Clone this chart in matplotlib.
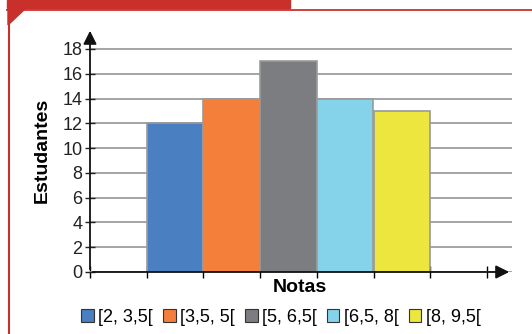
import matplotlib.pyplot as plt
from matplotlib.patches import Patch, Polygon, Rectangle
from matplotlib.lines import Line2D

# dados
classes = ["[2, 3,5[", "[3,5, 5[", "[5, 6,5[", "[6,5, 8[", "[8, 9,5["]
limites = [2, 3.5, 5, 6.5, 8, 9.5]
estudantes = [12, 14, 17, 14, 13]
cores = ["#4a7fc1", "#f47f3b", "#7c7d81", "#84d3ea", "#ece63e"]
yticks = [0, 2, 4, 6, 8, 10, 12, 14, 16, 18]
xticks = [0.5, 2, 3.5, 5, 6.5, 8, 9.5, 11]

plt.rcParams['font.family'] = ['Liberation Sans', 'DejaVu Sans']

fig = plt.figure(figsize=(5.32, 3.34), dpi=100)
ax = fig.add_axes([90 / 532, 1 - 272 / 334, 422 / 532, 244 / 334])

for i in range(len(estudantes)):
    ax.bar(limites[i], estudantes[i], width=limites[i + 1] - limites[i],
           align='edge', color=cores[i], edgecolor='#9a9a9a', linewidth=1.2, zorder=3)

ax.set_xlim(0.5, 0.5 + 422 / 56.7 * 1.5)
ax.set_ylim(0, 18 + 21 / 12.4)
ax.set_yticks(yticks)
ax.set_xticks(xticks)
ax.set_xticklabels([])
ax.tick_params(axis='y', direction='inout', length=7, width=1, labelsize=13, pad=2, colors='#222222')
ax.tick_params(axis='x', direction='inout', length=8, width=1)
ax.grid(axis='y', color='#9d9d9d', linewidth=1.3, zorder=0)
for s in ['top', 'right', 'left', 'bottom']:
    ax.spines[s].set_visible(False)

# eixos com setas
ax.annotate('', xy=(1.0, 0), xycoords='axes fraction', xytext=(0, 0),
            arrowprops=dict(arrowstyle='-|>', color='#111111', lw=1.3, mutation_scale=20), zorder=5)
ax.annotate('', xy=(0, 1.0), xycoords='axes fraction', xytext=(0, 0),
            arrowprops=dict(arrowstyle='-|>', color='#111111', lw=1.3, mutation_scale=20), zorder=5)

ax.set_ylabel("Estudantes", fontsize=14, fontweight='bold', labelpad=8)
fig.text(300 / 532, 1 - 288 / 334, "Notas", fontsize=14, fontweight='bold', ha='center', va='center')

handles = [Patch(facecolor=c, edgecolor='#333333', linewidth=0.8) for c in cores]
fig.legend(handles, classes, loc='center', bbox_to_anchor=(281 / 532, 1 - 317 / 334), ncol=5,
           frameon=False, fontsize=13, handlelength=0.7, handleheight=0.7,
           handletextpad=0.25, columnspacing=0.55, borderaxespad=0)

# moldura vermelha
vermelho = '#c9302c'
fig.patches.append(Rectangle((7 / 532, 1 - 8 / 334), 283 / 532, 8 / 334,
                             transform=fig.transFigure, color=vermelho, zorder=0))
fig.lines.append(Line2D([7 / 532, 1], [1 - 9.5 / 334, 1 - 9.5 / 334], transform=fig.transFigure,
                        color=vermelho, lw=1.3))
fig.lines.append(Line2D([8.5 / 532, 8.5 / 532], [0, 1 - 8 / 334], transform=fig.transFigure,
                        color=vermelho, lw=1.5))
fig.patches.append(Polygon([(8 / 532, 1 - 9 / 334), (25 / 532, 1 - 9 / 334), (8 / 532, 1 - 25 / 334)],
                           closed=True, transform=fig.transFigure, color=vermelho, zorder=0))

fig.savefig("out.png", dpi=100)
